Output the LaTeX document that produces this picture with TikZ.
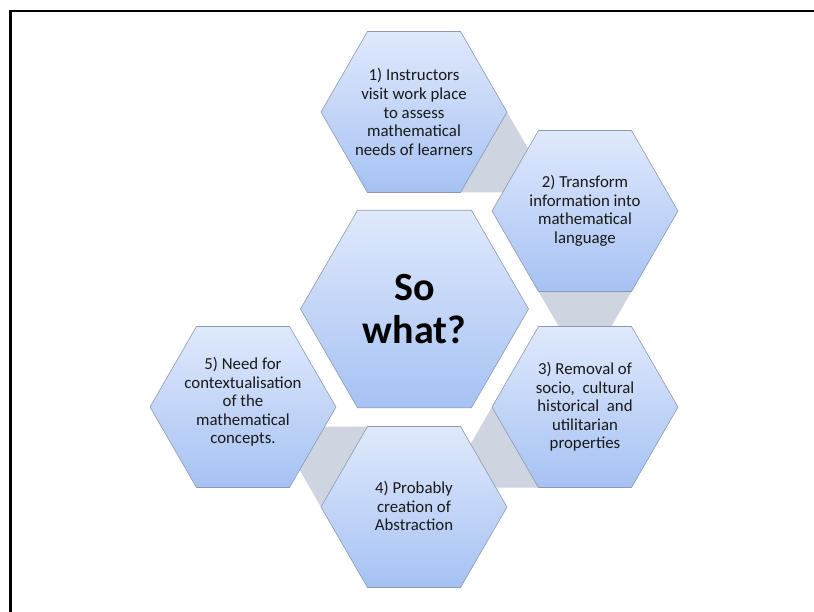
\documentclass[tikz,border=0pt]{standalone}
\usepackage{fontspec}
\setmainfont{Carlito}
\usetikzlibrary{shapes.geometric}
\definecolor{hextop}{RGB}{224,233,252}
\definecolor{hexbot}{RGB}{166,194,243}
\definecolor{hexline}{RGB}{140,152,172}
\definecolor{linkgray}{RGB}{206,212,224}
\tikzset{
  hexshape/.style={regular polygon, regular polygon sides=6, inner sep=0pt, outer sep=0pt,
    top color=hextop, bottom color=hexbot, draw=hexline, line width=0.6pt},
  smallhex/.style={hexshape, minimum size=186pt},
  bighex/.style={hexshape, minimum size=228pt},
  hextext/.style={align=center, font=\fontsize{16.8}{18.6}\selectfont, text=black!90},
  bigtext/.style={align=center, font=\fontsize{40}{43}\selectfont\bfseries, text=black},
  linkshape/.style={fill=linkgray, draw=none},
  frameline/.style={line width=2.5pt, black}
}
\begin{document}
\begin{tikzpicture}[x=1pt,y=-1pt]
\useasboundingbox (0,0) rectangle (814,612);
% frame (top and left edges)
\coordinate (fa) at (10.5,612);
\coordinate (fb) at (10.5,11);
\coordinate (fc) at (814,11);
\draw[frameline] (fa) -- (fb) -- (fc);

% connector triangles (drawn behind the hexagons)
\coordinate (c12) at (553.5,192.5);
\coordinate (c23) at (585,372);
\coordinate (c34) at (445.5,487.5);
\coordinate (c45) at (274.5,426.5);
\fill[linkshape] (507,112) -- (460.5,192.5) -- (c12) -- cycle;
\fill[linkshape] (538.5,291.5) -- (631.5,291.5) -- (c23) -- cycle;
\fill[linkshape] (492,407) -- (538.5,487.5) -- (c34) -- cycle;
\fill[linkshape] (321,507) -- (367.5,426.5) -- (c45) -- cycle;

% hexagons
\node[bighex] (h0) at (414.5,309) {};
\node[smallhex] (h1) at (414,112) {};
\node[smallhex] (h2) at (585,211) {};
\node[smallhex] (h3) at (585,407) {};
\node[smallhex] (h4) at (414,507) {};
\node[smallhex] (h5) at (243,407) {};

% texts
\node[bigtext] (t0) at (414.5,309) {So\\what?};
\node[hextext] (t1) at (414,112) {1) Instructors\\visit work place\\to assess\\mathematical\\needs of learners};
\node[hextext] (t2) at (585,211) {2) Transform\\information into\\mathematical\\language};
\node[hextext] (t3) at (585,407) {3) Removal of\\socio,~ cultural\\historical~ and\\utilitarian\\properties};
\node[hextext] (t4) at (414,506) {4) Probably\\creation of\\Abstraction};
\node[hextext] (t5) at (243,402) {5) Need for\\contextualisation\\of the\\mathematical\\concepts.};
\end{tikzpicture}
\end{document}
